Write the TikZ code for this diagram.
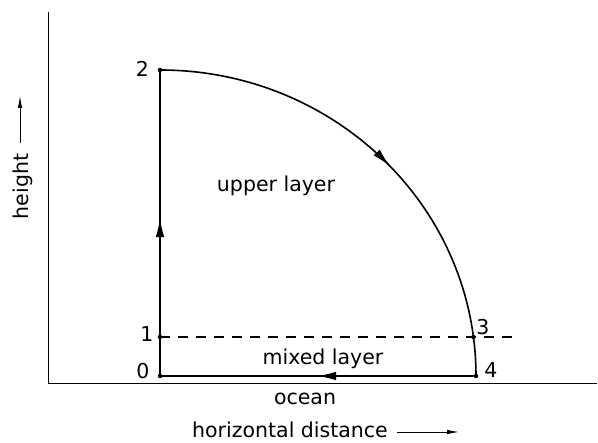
\documentclass[tikz,border=0pt]{standalone}
\usepackage{fontspec}
\setmainfont{DejaVu Sans}
\usetikzlibrary{decorations.markings,arrows.meta}
\begin{document}
\begin{tikzpicture}[x=1pt,y=1pt,
  lbl/.style={font=\fontsize{20.5}{24}\selectfont, inner sep=0pt, anchor=base},
  curve/.style={line width=1.6pt},
  axis/.style={line width=1pt},
  dot/.style={circle, fill=black, inner sep=0pt, minimum size=4.5pt},
  marr/.style={decoration={markings, mark=at position #1 with {\arrow{Latex[length=19pt,width=8.5pt]}}}, postaction={decorate}}
]
\useasboundingbox (0,0) rectangle (598,443);
% axes
\coordinate (ytop) at (48,431);
\coordinate (corner) at (48,59);
\coordinate (xend) at (597,59);
\draw[axis] (ytop) -- (corner) -- (xend);
% points
\node[dot] (p0) at (160,67) {};
\node[dot] (p1) at (160,106) {};
\node[dot] (p2) at (160,373) {};
\node[dot] (p3) at (473.4,106) {};
\node[dot] (p4) at (476,67) {};
\coordinate (dashend) at (512,106);
% paths
\draw[curve, marr=0.516] (p0.center) -- (p2.center);
\draw[curve, marr=0.524] (p2.center) arc[start angle=90, end angle=0, x radius=316, y radius=306];
\draw[curve, marr=0.503] (p4.center) -- (p0.center);
\draw[line width=1.2pt, dash pattern=on 10pt off 8pt] (p1.center) -- (dashend);
% labels
\node[lbl] (l2) at (142.5,366) {2};
\node[lbl] (l1) at (147,101) {1};
\node[lbl] (l0) at (143,64) {0};
\node[lbl] (l3) at (483,108) {3};
\node[lbl] (l4) at (491,65) {4};
\node[lbl] (up) at (276,251) {upper layer};
\node[lbl] (mx) at (323,78) {mixed layer};
\node[lbl] (oc) at (305,38) {ocean};
\node[lbl] (hd) at (290,5) {horizontal distance};
\coordinate (ha) at (397,11);
\coordinate (hb) at (459,11);
\draw[line width=0.8pt, -{Latex[length=12pt,width=4.5pt]}] (ha) -- (hb);
\node[lbl, rotate=90] (ht) at (28,256.5) {height};
\coordinate (va) at (20,300);
\coordinate (vb) at (20,347);
\draw[line width=0.8pt, -{Latex[length=12pt,width=4.5pt]}] (va) -- (vb);
\end{tikzpicture}
\end{document}
